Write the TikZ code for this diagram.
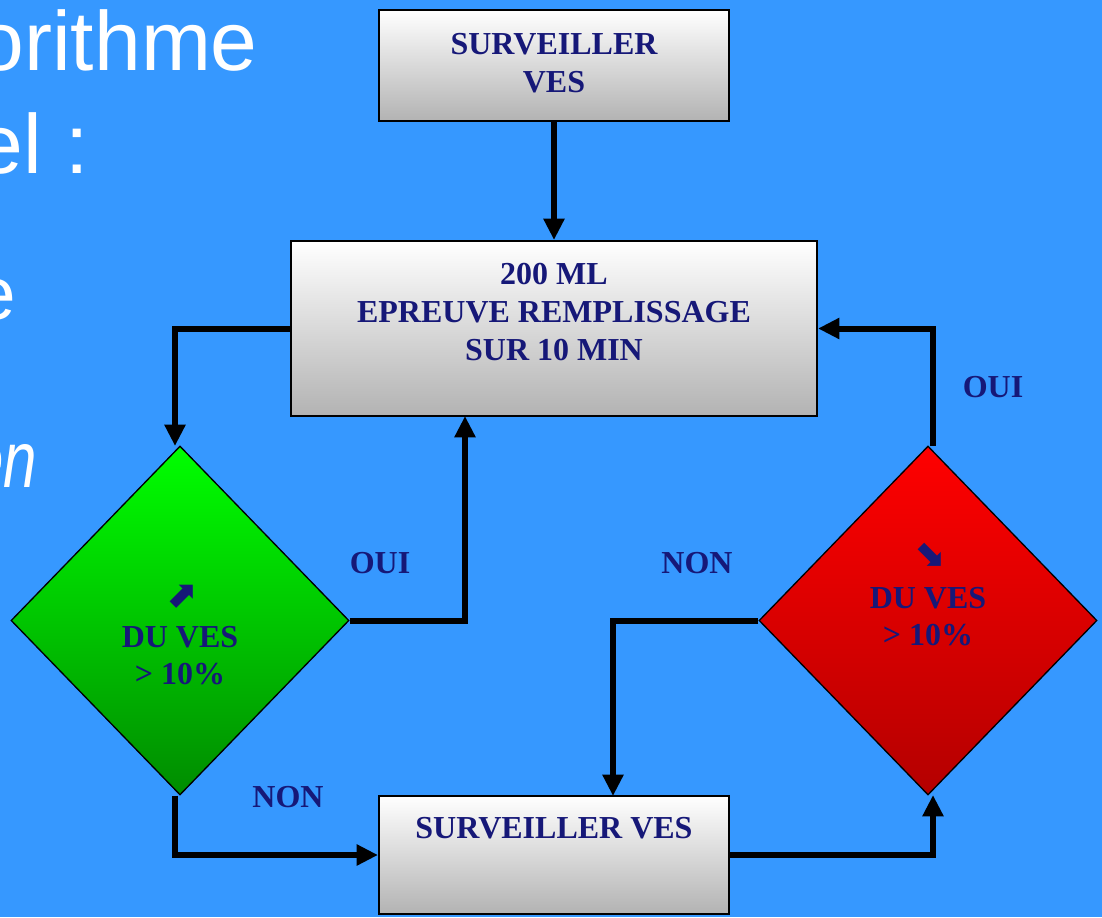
\documentclass[tikz,border=0pt]{standalone}
\usepackage{fontspec}
\setmainfont{Liberation Serif}
\newfontfamily\arialf{Liberation Sans}
\newfontfamily\symf{DejaVu Sans}
\usetikzlibrary{shapes.geometric,arrows.meta}
\definecolor{bgblue}{RGB}{54,152,255}
\definecolor{navy}{RGB}{22,24,120}
\definecolor{greentop}{RGB}{0,255,0}
\definecolor{greenbot}{RGB}{0,140,0}
\definecolor{redtop}{RGB}{255,0,0}
\definecolor{redbot}{RGB}{180,0,0}
\tikzset{
  box/.style={draw=black, line width=1.5pt, top color=white, bottom color=black!30, inner sep=0pt},
  dia/.style={diamond, draw=black, line width=1pt, inner sep=0pt, minimum width=253.5pt, minimum height=261.75pt},
  lbl/.style={text=navy, font=\bfseries\fontsize{24}{28.5}\selectfont, align=center, inner sep=0pt},
  conn/.style={line width=4.5pt, line join=miter, -{Triangle[length=16pt,width=15pt]}},
  big/.style={text=white, font=\arialf\fontsize{63}{63}\selectfont, inner sep=0pt, anchor=base east},
  mbig/.style={text=white, font=\arialf\fontsize{56}{56}\selectfont, inner sep=0pt, anchor=base east}
}
\begin{document}
\begin{tikzpicture}[x=0.75pt,y=-0.75pt]
\fill[bgblue] (0,0) rectangle (1102,917);
\useasboundingbox (0,0) rectangle (1102,917);
% left text (cut)
\node[big] (t1) at (258,70) {orithme};
\node[big] (t2) at (89,173) {el :};
\node[mbig] (t3) at (16,319) {e};
\node[mbig, font=\arialf\itshape\fontsize{60}{60}\selectfont, xscale=0.75] (t4) at (37,487) {en};
% boxes
\node[box, minimum width=262.5pt, minimum height=83.25pt] (top) at (554,65.5) {};
\node[box, minimum width=394.5pt, minimum height=131.25pt] (mid) at (554,328.5) {};
\node[box, minimum width=262.5pt, minimum height=88.5pt] (bot) at (554,855) {};
\node[lbl] (toptxt) at (554,63) {SURVEILLER\\VES};
\node[lbl] (midtxt) at (554,312) {200 ML\\EPREUVE REMPLISSAGE\\SUR 10 MIN};
\node[lbl, anchor=base] (bottxt) at (554,838) {SURVEILLER VES};
% diamonds
\node[dia, top color=greentop, bottom color=greenbot] (gd) at (180,620.5) {};
\node[dia, top color=redtop, bottom color=redbot] (rd) at (928,620.5) {};
\node[lbl] (ga) at (181,597) {\symf\fontsize{28}{28}\selectfont ⬈};
\node[lbl, anchor=base] (gt) at (180,684) {DU VES\\[-1pt]> 10\%};
\node[lbl] (ra) at (929,555) {\symf\fontsize{28}{28}\selectfont ⬊};
\node[lbl, anchor=base] (rt) at (928,645) {DU VES\\[-1pt]> 10\%};
% connector labels
\node[lbl] (oui1) at (380,563) {OUI};
\node[lbl] (non1) at (697,563) {NON};
\node[lbl] (non2) at (288,797) {NON};
\node[lbl] (oui2) at (993,387) {OUI};
% connectors
\coordinate (c1) at (175,328.5);
\coordinate (c2) at (465,620.5);
\coordinate (c3) at (175,855);
\coordinate (c4) at (933,855);
\coordinate (c5) at (613,620.5);
\coordinate (c6) at (933,328.5);
\draw[conn] (top.south) -- (mid.north);
\draw[conn] (mid.west) -- (c1) -- (175,446);
\draw[conn] (gd.east) -- (c2) -- (465,416);
\draw[conn] (gd.south -| 175,0) -- (c3) -- (bot.west);
\draw[conn] (bot.east) -- (c4) -- (933,795);
\draw[conn] (rd.west) -- (c5) -- (613,796);
\draw[conn] (933,446) -- (c6) -- (mid.east);
\end{tikzpicture}
\end{document}
